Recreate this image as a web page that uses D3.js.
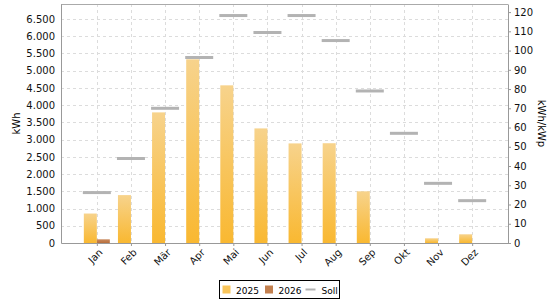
<!DOCTYPE html>
<html>
<head>
<meta charset="utf-8">
<script src="https://cdn.jsdelivr.net/npm/d3@7"></script>
<style>
	body { margin: 0; background: #fff; }
	svg { display: block; font-family: "DejaVu Sans", sans-serif; }
	.grid line { stroke: #dcdcdc; stroke-dasharray: 3,3; }
</style>
</head>
<body>
<div id="chart"></div>
<script>
// Chart data
var months = ["Jan", "Feb", "Mär", "Apr", "Mai", "Jun", "Jul", "Aug", "Sep", "Okt", "Nov", "Dez"];
var values2025 = [855, 1390, 3790, 5330, 4575, 3325, 2890, 2895, 1500, 0, 137, 253];
var values2026 = [107, 0, 0, 0, 0, 0, 0, 0, 0, 0, 0, 0];
var sollValues = [26.2, 43.9, 70, 96.4, 118.2, 109.4, 118.2, 105.2, 79, 57, 31, 22];
var leftTicks = d3.range(0, 6501, 500);
var rightTicks = d3.range(0, 121, 10);
var legendItems = ["2025", "2026", "Soll"];

(function(){

	var width = 560, height = 300;
	var plot = { left: 61, right: 508, top: 4, bottom: 243 };

	var svg = d3.select("#chart").append("svg")
		.attr("width", width)
		.attr("height", height);

	// Gradients for the bars
	var defs = svg.append("defs");
	function addGradient(id, top, bottom){
		var g = defs.append("linearGradient")
			.attr("id", id)
			.attr("x1", 0).attr("y1", 0)
			.attr("x2", 0).attr("y2", 1);
		g.append("stop").attr("offset", "0%").attr("stop-color", top);
		g.append("stop").attr("offset", "100%").attr("stop-color", bottom);
	}
	addGradient("grad2025", "#f7d38c", "#f9b831");
	addGradient("grad2026", "#c98a5f", "#b86f3c");

	// Scales
	var x = d3.scalePoint()
		.domain(months)
		.range([plot.left, plot.right])
		.padding(1.05);

	var yLeft = d3.scaleLinear()
		.domain([0, 6935])
		.range([plot.bottom, plot.top]);

	var yRight = d3.scaleLinear()
		.domain([0, 124.2])
		.range([plot.bottom, plot.top]);

	var barWidth = 13;
	var sollWidth = 28;

	// Grid lines
	var grid = svg.append("g").attr("class", "grid");
	grid.selectAll(".h").data(leftTicks.slice(1)).enter().append("line")
		.attr("x1", plot.left).attr("x2", plot.right)
		.attr("y1", function(d){ return Math.round(yLeft(d)) + 0.5; })
		.attr("y2", function(d){ return Math.round(yLeft(d)) + 0.5; });
	grid.selectAll(".v").data(months).enter().append("line")
		.attr("x1", function(d){ return Math.round(x(d)) + 0.5; })
		.attr("x2", function(d){ return Math.round(x(d)) + 0.5; })
		.attr("y1", plot.top).attr("y2", plot.bottom);

	// Frame
	svg.append("line")
		.attr("x1", plot.left).attr("x2", plot.right)
		.attr("y1", plot.top + 0.5).attr("y2", plot.top + 0.5)
		.attr("stroke", "#aaaaaa");

	// Bars 2025
	svg.append("g").selectAll("rect").data(values2025).enter().append("rect")
		.attr("x", function(d, i){ return x(months[i]) - barWidth; })
		.attr("y", function(d){ return yLeft(d); })
		.attr("width", barWidth)
		.attr("height", function(d){ return plot.bottom - yLeft(d); })
		.attr("fill", "url(#grad2025)");

	// Bars 2026
	svg.append("g").selectAll("rect").data(values2026).enter().append("rect")
		.attr("x", function(d, i){ return x(months[i]); })
		.attr("y", function(d){ return yLeft(d); })
		.attr("width", barWidth)
		.attr("height", function(d){ return plot.bottom - yLeft(d); })
		.attr("fill", "url(#grad2026)");

	// Soll lines
	svg.append("g").selectAll("line").data(sollValues).enter().append("line")
		.attr("x1", function(d, i){ return x(months[i]) - sollWidth / 2; })
		.attr("x2", function(d, i){ return x(months[i]) + sollWidth / 2; })
		.attr("y1", function(d){ return yRight(d); })
		.attr("y2", function(d){ return yRight(d); })
		.attr("stroke", "#b3b3b3")
		.attr("stroke-width", 3);

	// Left axis
	var leftAxis = svg.append("g")
		.attr("transform", "translate(" + plot.left + ",0)")
		.call(d3.axisLeft(yLeft)
			.tickValues(leftTicks)
			.tickSize(0)
			.tickPadding(6)
			.tickFormat(function(d){ return d3.format(",")(d).replace(/,/g, "."); }));
	leftAxis.select(".domain").attr("stroke", "#999999");
	leftAxis.selectAll("text").attr("font-size", 10).attr("fill", "#111").attr("font-family", "DejaVu Sans");

	// Right axis
	var rightAxis = svg.append("g")
		.attr("transform", "translate(" + plot.right + ",0)")
		.call(d3.axisRight(yRight)
			.tickValues(rightTicks)
			.tickSize(3)
			.tickPadding(3)
			.tickSizeOuter(0));
	rightAxis.select(".domain").attr("stroke", "#999999");
	rightAxis.selectAll(".tick line").attr("stroke", "#999999");
	rightAxis.selectAll("text").attr("font-size", 10).attr("fill", "#111").attr("font-family", "DejaVu Sans");

	// Bottom axis
	var bottomAxis = svg.append("g")
		.attr("transform", "translate(0," + plot.bottom + ")")
		.call(d3.axisBottom(x).tickSize(3).tickSizeOuter(0));
	bottomAxis.select(".domain").attr("stroke", "#999999");
	bottomAxis.selectAll(".tick line").attr("stroke", "#999999");
	bottomAxis.selectAll("text")
		.attr("font-size", 10)
		.attr("fill", "#111")
		.attr("font-family", "DejaVu Sans")
		.attr("text-anchor", "end")
		.attr("dy", null)
		.attr("y", 0)
		.attr("transform", "translate(6,10) rotate(-45)");

	// Axis titles
	svg.append("text")
		.attr("transform", "translate(20," + ((plot.top + plot.bottom) / 2) + ") rotate(-90)")
		.attr("text-anchor", "middle")
		.attr("font-size", 10)
		.text("kWh");
	svg.append("text")
		.attr("transform", "translate(538," + ((plot.top + plot.bottom) / 2) + ") rotate(90)")
		.attr("text-anchor", "middle")
		.attr("font-size", 10)
		.text("kWh/kWp");

	// Legend
	var legend = svg.append("g").attr("transform", "translate(219.5,280.5)");
	legend.append("rect")
		.attr("width", 120).attr("height", 18)
		.attr("fill", "#fff").attr("stroke", "#000");
	var legendX = [3, 45.5, 86];
	legendItems.forEach(function(name, i){
		var item = legend.append("g").attr("transform", "translate(" + legendX[i] + ",0)");
		if(i < 2){
			item.append("rect")
				.attr("x", 0).attr("y", 5)
				.attr("width", 8).attr("height", 8)
				.attr("fill", i == 0 ? "#f9c55a" : "#c3804f");
		}
		else{
			item.append("line")
				.attr("x1", 0).attr("x2", 10)
				.attr("y1", 9).attr("y2", 9)
				.attr("stroke", "#b3b3b3").attr("stroke-width", 2);
		}
		item.append("text")
			.attr("x", i < 2 ? 13.5 : 16).attr("y", 13)
			.attr("font-size", 9)
			.text(name);
	});

})();
</script>
</body>
</html>
